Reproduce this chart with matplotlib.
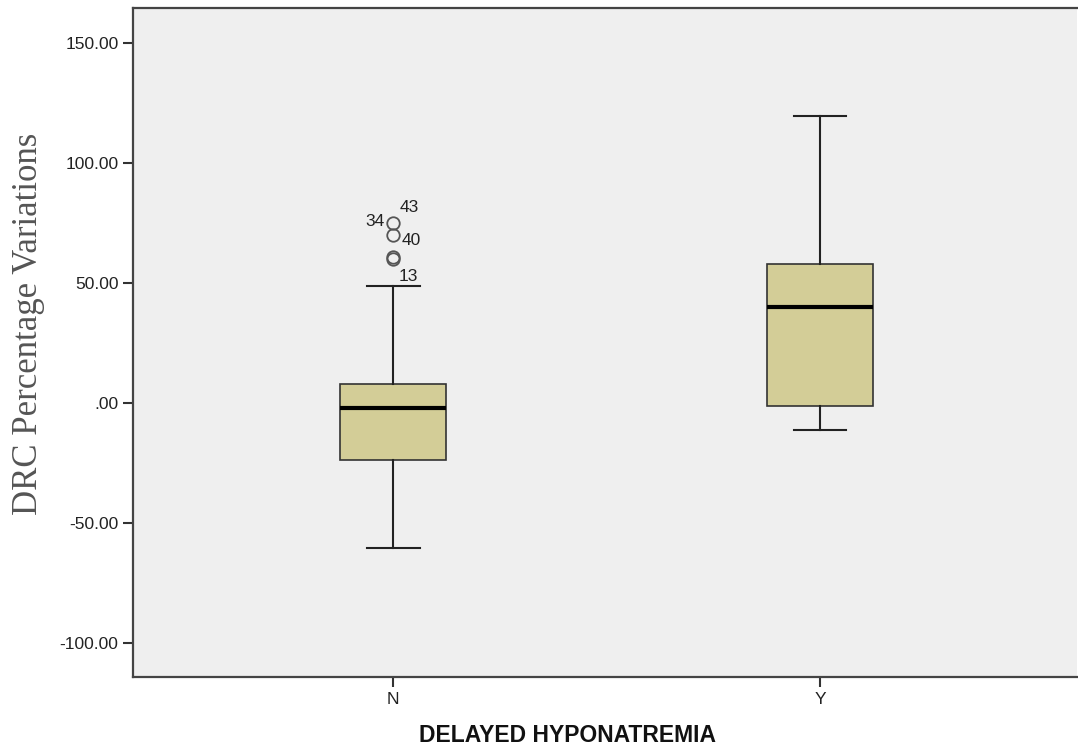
import numpy as np
import matplotlib
matplotlib.use('Agg')
import matplotlib.pyplot as plt

# values
groups = ['N', 'Y']
q1 = [-23.8, -1.2]
medians = [-2.1, 40.2]
q3 = [7.9, 57.9]
whisker_low = [-60.4, -11.2]
whisker_high = [48.8, 119.6]
outliers_n = [75.3, 70.3, 60.2, 60.8]
outlier_labels = ['43', '40', '13', '34']
yticks = [-100, -50, 0, 50, 100, 150]

stats = []
for i, g in enumerate(groups):
    stats.append({
        'label': g,
        'q1': q1[i], 'med': medians[i], 'q3': q3[i],
        'whislo': whisker_low[i], 'whishi': whisker_high[i],
        'fliers': outliers_n if g == 'N' else [],
    })

fig = plt.figure(figsize=(10.78, 7.47), dpi=100)
ax = fig.add_axes([0.1234, 0.0937, 0.8757, 0.895])
ax.set_facecolor('#efefef')

ax.bxp(stats, positions=[1, 2], widths=0.248, patch_artist=True,
       boxprops=dict(facecolor='#d3cd97', edgecolor='#333333', linewidth=1.2),
       medianprops=dict(color='black', linewidth=3),
       whiskerprops=dict(color='#222222', linewidth=1.5),
       capprops=dict(color='#222222', linewidth=1.5),
       flierprops=dict(marker='o', markerfacecolor='none', markeredgecolor='#555555',
                       markersize=9, markeredgewidth=1.3))

# case labels next to the outliers
lab_off = {'43': (5, 11, 'left'), '34': (-6, 1, 'right'), '40': (6, -4.6, 'left'), '13': (4, -13, 'left')}
lab_val = {'43': outliers_n[0], '34': outliers_n[0], '40': outliers_n[1], '13': outliers_n[2]}
for lab in outlier_labels:
    dx, dy, ha = lab_off[lab]
    ax.annotate(lab, xy=(1, lab_val[lab]), xytext=(dx, dy), textcoords='offset points',
                ha=ha, va='center', fontsize=12.5, family='Liberation Sans', color='#222222')

ax.set_xlim(0.391, 2.602)
ax.set_ylim(-114.2, 164.6)
ax.set_yticks(yticks)
ax.set_yticklabels(['.00' if v == 0 else f'{v:.2f}' for v in yticks],
                   fontsize=12.5, family='Liberation Sans', color='#222222')
ax.set_xticks([1, 2])
ax.set_xticklabels(groups, fontsize=12.5, family='Liberation Sans', color='#222222')
ax.tick_params(axis='both', direction='out', length=7, width=1.5, color='#333333')

for s in ['left', 'top', 'bottom']:
    ax.spines[s].set_color('#444444')
    ax.spines[s].set_linewidth(1.6)
ax.spines['right'].set_visible(False)

ax.set_ylabel('DRC Percentage Variations', fontsize=25, family='Liberation Serif',
              color='#555555', va='center')
ax.yaxis.set_label_coords(-0.111, 0.528)
ax.set_xlabel('DELAYED HYPONATREMIA', fontsize=16.5, family='Liberation Sans',
              fontweight='bold', color='#111111', va='center')
ax.xaxis.set_label_coords(0.46, -0.087)

fig.savefig('out.png', dpi=100)
